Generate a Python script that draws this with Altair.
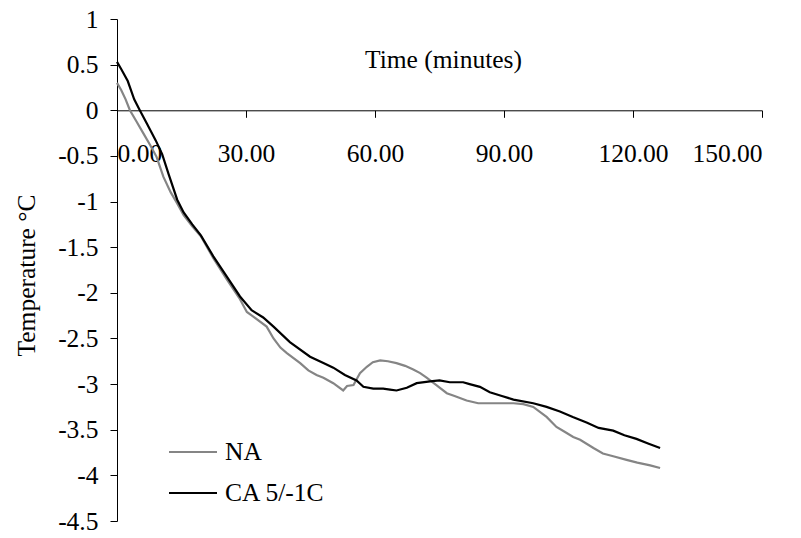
import altair as alt
import pandas as pd

series_names = ["NA", "CA 5/-1C"]
series_colors = ["#858585", "#000000"]

ca_time = [0, 1, 2.5, 4, 5.3, 7, 9, 10.5, 12, 14, 15.5, 17.5, 19.5, 22.4, 25.5, 28.6,
           31.3, 34, 36.4, 40.2, 44.9, 48, 50.3, 53, 55.7, 57.3, 59.6, 61.9, 63.5, 65,
           67.4, 69.7, 72.8, 75, 77.4, 80.5, 82, 84.4, 86.7, 89.5, 92.2, 96.8, 99.9,
           103, 106, 109.2, 112, 115.4, 118, 120.8, 123.5, 126.3]
ca_temp = [0.53, 0.45, 0.32, 0.12, 0.0, -0.15, -0.33, -0.48, -0.70, -0.98, -1.12, -1.25,
           -1.37, -1.60, -1.82, -2.04, -2.19, -2.27, -2.37, -2.54, -2.70, -2.77, -2.82,
           -2.90, -2.96, -3.03, -3.05, -3.05, -3.06, -3.07, -3.04, -2.99, -2.97, -2.96,
           -2.98, -2.98, -3.00, -3.03, -3.09, -3.13, -3.17, -3.21, -3.25, -3.30, -3.36,
           -3.42, -3.48, -3.51, -3.56, -3.60, -3.65, -3.70]

na_time = [0, 1, 2, 3, 4.5, 6.1, 7.7, 9.2, 10.8, 12.5, 14, 15.5, 17.5, 19.5, 22.4, 25.5,
           28.6, 30.2, 31.7, 34.8, 36.4, 38, 39.5, 42.6, 44.5, 46.4, 48, 50.3, 52.6,
           53.5, 55, 56.5, 58.1, 59.5, 61.2, 63, 65, 67, 68.9, 70.5, 72, 74.5, 76.7,
           78.5, 81.3, 84, 86.7, 89.5, 92.2, 94.5, 96.8, 99.9, 102.2, 104, 106.1, 107.7,
           110.8, 113, 115.4, 118.5, 121, 124, 126.3]
na_temp = [0.30, 0.22, 0.12, 0.0, -0.12, -0.25, -0.38, -0.51, -0.73, -0.90, -1.02, -1.15,
           -1.27, -1.38, -1.62, -1.85, -2.07, -2.21, -2.26, -2.37, -2.50, -2.60, -2.66,
           -2.77, -2.85, -2.90, -2.93, -2.99, -3.07, -3.02, -3.01, -2.88, -2.81, -2.76,
           -2.74, -2.75, -2.77, -2.80, -2.84, -2.88, -2.93, -3.02, -3.10, -3.13, -3.18,
           -3.21, -3.21, -3.21, -3.21, -3.22, -3.25, -3.36, -3.47, -3.52, -3.58, -3.61,
           -3.70, -3.76, -3.79, -3.83, -3.86, -3.89, -3.92]

x_ticks = [0, 30, 60, 90, 120, 150]
y_ticks = [1, 0.5, 0, -0.5, -1, -1.5, -2, -2.5, -3, -3.5, -4, -4.5]

df = pd.concat([
    pd.DataFrame({"time": na_time, "temp": na_temp, "series": series_names[0], "order": 0}),
    pd.DataFrame({"time": ca_time, "temp": ca_temp, "series": series_names[1], "order": 1}),
])

FONT = "Liberation Serif"
FS = 25.5

chart = alt.Chart(df).mark_line(strokeWidth=2.2).encode(
    x=alt.X("time:Q",
            scale=alt.Scale(domain=[0, 150], nice=False, zero=False),
            axis=alt.Axis(values=x_ticks, labelExpr="format(datum.value, '.2f')",
                          offset=-410.7, tickSize=7, labelPadding=24,
                          title="Time (minutes)", titleX=326, titleY=-51,
                          titleBaseline="middle", titleAlign="center",
                          titleFontWeight="normal", grid=False)),
    y=alt.Y("temp:Q",
            scale=alt.Scale(domain=[-4.5, 1], nice=False, zero=False),
            axis=alt.Axis(values=y_ticks, labelExpr="'' + datum.value",
                          tickSize=7, labelPadding=12,
                          title="Temperature °C", titleX=-91, titleY=256,
                          titleAngle=270, titleBaseline="middle", titleAlign="center",
                          titleFontWeight="normal", grid=False)),
    color=alt.Color("series:N",
                    scale=alt.Scale(domain=series_names, range=series_colors),
                    legend=alt.Legend(title=None, orient="none", legendX=51, legendY=408,
                                      symbolType="stroke", symbolSize=2304,
                                      symbolStrokeWidth=2, labelFont=FONT,
                                      labelFontSize=FS, labelColor="black",
                                      rowPadding=2, labelOffset=7)),
    order="order:Q",
).properties(
    width=645, height=502,
    autosize=alt.AutoSizeParams(type="none"),
    padding={"left": 109, "top": 11, "right": 31, "bottom": 9},
).configure_view(stroke=None).configure_axis(
    labelFont=FONT, labelFontSize=FS, labelColor="black",
    titleFont=FONT, titleFontSize=FS, titleColor="black",
    domainColor="black", tickColor="black", domainWidth=1, tickWidth=1,
)

chart.save("out.html", embed_options={"renderer": "svg", "actions": False})
